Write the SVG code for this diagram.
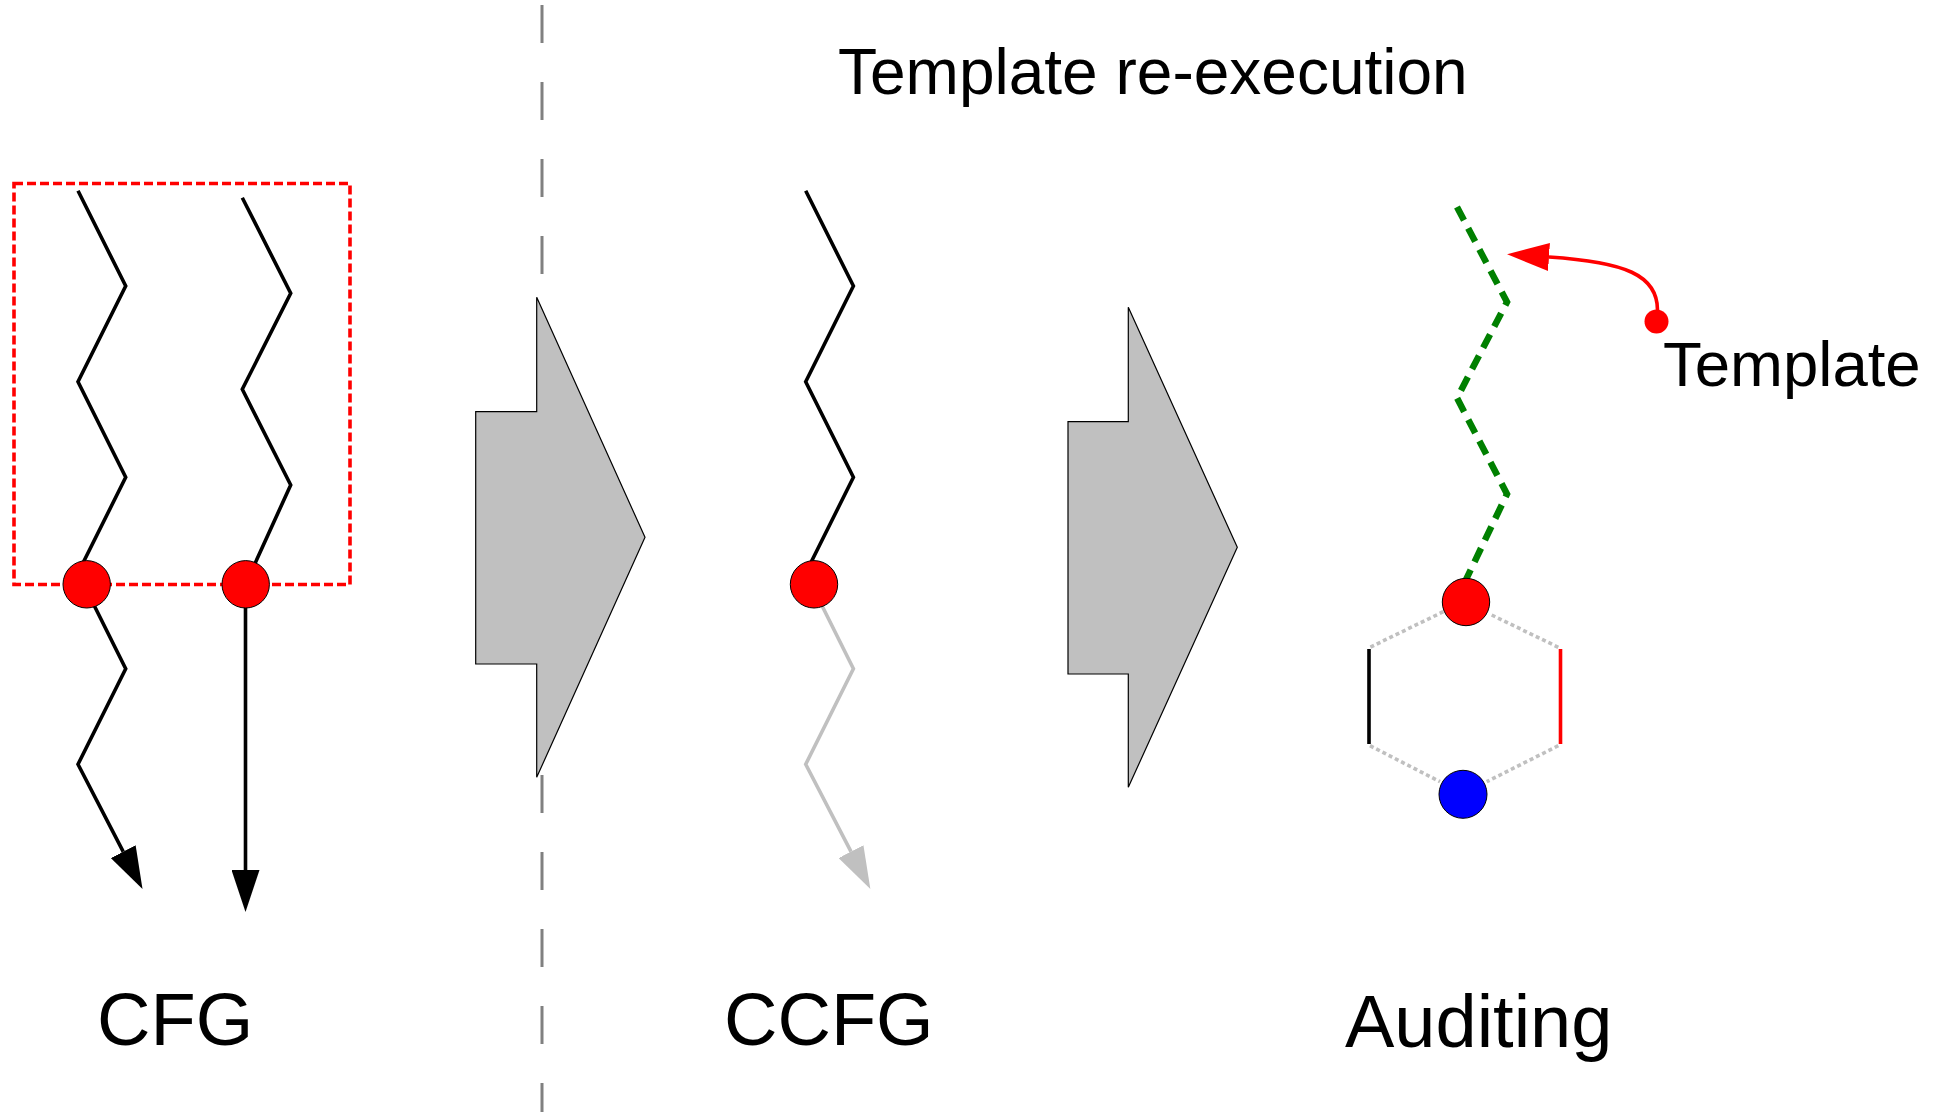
<svg xmlns="http://www.w3.org/2000/svg" width="1933" height="1112" viewBox="0 0 1933 1112">
<style>
  .lbl { font-family: "Liberation Sans", Arial, sans-serif; fill: #000; }
  .zig { fill: none; stroke: #000; stroke-width: 3.6; stroke-linejoin: miter; }
  .zigg { fill: none; stroke: #c0c0c0; stroke-width: 3.6; }
  .node { fill: #ff0000; stroke: #000; stroke-width: 1; }
  .big { fill: #c0c0c0; stroke: #000; stroke-width: 1.2; }
  .dot { fill: none; stroke: #c0c0c0; stroke-width: 3.6; stroke-dasharray: 4 3; }
</style>
<defs>
  <marker id="ahB" markerUnits="userSpaceOnUse" markerWidth="42" markerHeight="28" refX="0" refY="14" orient="auto" viewBox="0 0 42 28">
    <path d="M0,0 L42,14 L0,28 z" fill="#000"/>
  </marker>
  <marker id="ahG" markerUnits="userSpaceOnUse" markerWidth="42" markerHeight="28" refX="0" refY="14" orient="auto" viewBox="0 0 42 28">
    <path d="M0,0 L42,14 L0,28 z" fill="#c0c0c0"/>
  </marker>
  <marker id="ahR" markerUnits="userSpaceOnUse" markerWidth="42" markerHeight="28" refX="0" refY="14" orient="auto" viewBox="0 0 42 28">
    <path d="M0,0 L42,14 L0,28 z" fill="#ff0000"/>
  </marker>
</defs>

<g id="divider">
  <line x1="542" y1="5" x2="542" y2="1112" stroke="#808080" stroke-width="3" stroke-dasharray="38 39"/>
</g>

<g id="title">
  <text class="lbl" x="838" y="94" font-size="64">Template re-execution</text>
</g>

<g id="connectors">
  <!-- CFG panel -->
  <rect x="14" y="183.5" width="336" height="401" fill="none" stroke="#ff0000" stroke-width="3.6" stroke-dasharray="9 4"/>
  <polyline class="zig" points="78,190.7 125.7,286 78,381.7 125.7,477.3 78,573 125.7,668.7 78,764.3 123.2,851.6" marker-end="url(#ahB)"/>
  <polyline class="zig" points="242.3,197.7 290.7,293.3 242.3,389.3 290.7,485 245.5,584.3 245.5,870" marker-end="url(#ahB)"/>
  <!-- CCFG panel -->
  <polyline class="zig" points="805.7,190.7 853.4,286 805.7,381.7 853.4,477.3 805.7,573"/>
  <polyline class="zigg" points="805.7,573 853.4,668.7 805.7,764.3 851,851.6" marker-end="url(#ahG)"/>
  <!-- Auditing panel -->
  <polyline points="1457,207 1507,302 1457,398 1507,494 1462,588" fill="none" stroke="#008000" stroke-width="6.5" stroke-dasharray="15 9"/>
  <line class="dot" x1="1443.3" y1="611.7" x2="1370" y2="647.3"/>
  <line class="dot" x1="1491.7" y1="615" x2="1558.3" y2="647.3"/>
  <line class="dot" x1="1370" y1="745.7" x2="1440" y2="781.7"/>
  <line class="dot" x1="1558.3" y1="745.7" x2="1486.7" y2="781.7"/>
  <line x1="1369" y1="649" x2="1369" y2="744" stroke="#000" stroke-width="3.6"/>
  <line x1="1560.5" y1="649" x2="1560.5" y2="744" stroke="#ff0000" stroke-width="3.6"/>
  <path d="M1657.5,310 C1657.5,275 1625,262 1549,257" fill="none" stroke="#ff0000" stroke-width="3.6" marker-end="url(#ahR)"/>
</g>

<g id="cfg-node-1"><circle class="node" cx="86.7" cy="584.3" r="23.7"/></g>
<g id="cfg-node-2"><circle class="node" cx="245.7" cy="584.3" r="23.7"/></g>
<g id="ccfg-node"><circle class="node" cx="814" cy="584.3" r="23.7"/></g>
<g id="audit-node-red"><circle class="node" cx="1466" cy="602" r="23.7"/></g>
<g id="audit-node-blue"><circle cx="1463" cy="794.3" r="24" fill="#0000ff" stroke="#000" stroke-width="1"/></g>
<g id="template-dot"><circle cx="1656.5" cy="321.5" r="12" fill="#ff0000"/></g>

<g id="arrow-1">
  <polygon class="big" points="475.7,411.7 536.7,411.7 536.7,297.3 645,537.3 536.7,777.3 536.7,664 475.7,664"/>
</g>
<g id="arrow-2">
  <polygon class="big" points="1068,421.7 1128.3,421.7 1128.3,307.3 1237.3,547.3 1128.3,787.3 1128.3,674 1068,674"/>
</g>

<g id="labels">
  <text class="lbl" x="97" y="1045" font-size="74">CFG</text>
  <text class="lbl" x="724" y="1045" font-size="74">CCFG</text>
  <text class="lbl" x="1345" y="1047" font-size="74">Auditing</text>
  <text class="lbl" x="1663" y="386" font-size="63.5">Template</text>
</g>
</svg>
